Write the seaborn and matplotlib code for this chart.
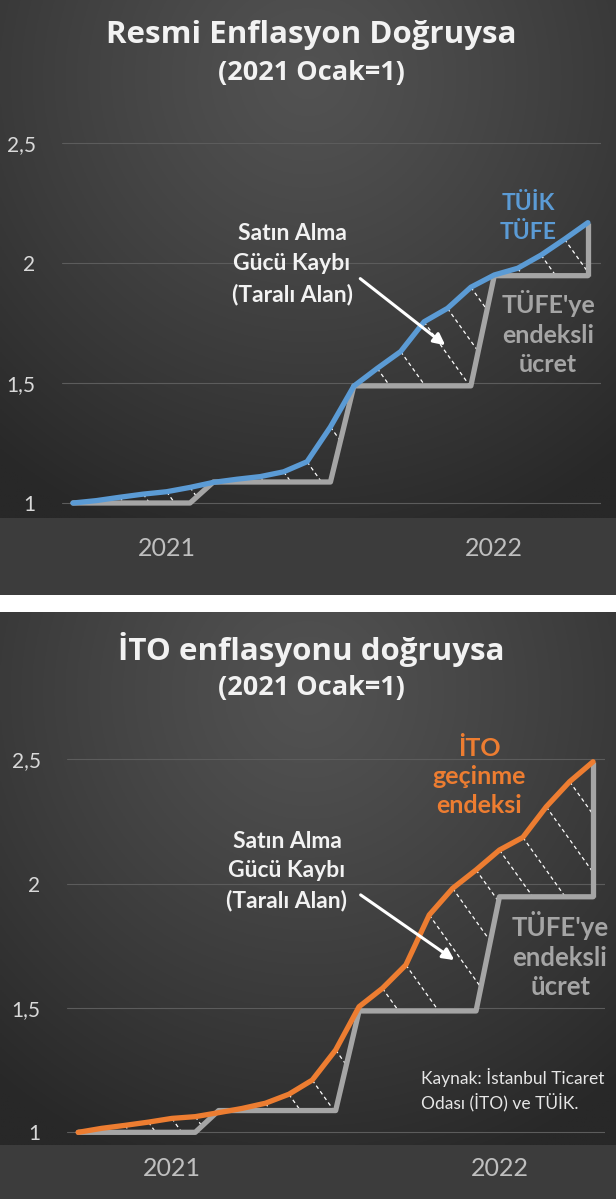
import numpy as np
import pandas as pd
import matplotlib
matplotlib.use("Agg")
import matplotlib.pyplot as plt
import seaborn as sns

sns.set_theme(style="dark")
plt.rcParams['font.family'] = ['Lato', 'DejaVu Sans']

# Ocak 2021 - Kasim 2022, aylik endeksler (2021 Ocak = 1)
aylar = ["2021-01", "2021-02", "2021-03", "2021-04", "2021-05", "2021-06",
         "2021-07", "2021-08", "2021-09", "2021-10", "2021-11", "2021-12",
         "2022-01", "2022-02", "2022-03", "2022-04", "2022-05", "2022-06",
         "2022-07", "2022-08", "2022-09", "2022-10", "2022-11"]
tuik_tufe = [1.000, 1.010, 1.024, 1.037, 1.047, 1.065, 1.086, 1.099, 1.110, 1.130, 1.172, 1.317,
             1.487, 1.561, 1.631, 1.755, 1.811, 1.899, 1.950, 1.978, 2.033, 2.099, 2.168]
ito_endeks = [1.000, 1.016, 1.028, 1.041, 1.056, 1.063, 1.079, 1.096, 1.117, 1.153, 1.210, 1.331,
              1.505, 1.579, 1.673, 1.874, 1.981, 2.055, 2.135, 2.186, 2.309, 2.410, 2.490]
ucret = [1.0, 1.0, 1.0, 1.0, 1.0, 1.0,
         1.0875, 1.0875, 1.0875, 1.0875, 1.0875, 1.0875,
         1.488, 1.488, 1.488, 1.488, 1.488, 1.488,
         1.947, 1.947, 1.947, 1.947, 1.947]
yillar = ["2021", "2022"]
yil_sira = [4, 18]
y_ticks = [1, 1.5, 2, 2.5]
y_etiket = ["1", "1,5", "2", "2,5"]

W, H = 616, 1199
fig = plt.figure(figsize=(W / 100, H / 100), dpi=100, facecolor="white")
BASLIK_FONT = ["Open Sans", "DejaVu Sans"]


def fx(px):
    return px / W


def fy(py):
    return 1 - py / H


def arka_plan(top, bottom, band_bottom):
    # koyu radyal degrade zemin + alt kategori bandi
    ax = fig.add_axes([0, fy(bottom), 1, (bottom - top) / H], zorder=-5)
    yy, xx = np.mgrid[0:1:300j, 0:1:300j]
    r = np.sqrt(((xx - 0.5) / 0.8) ** 2 + ((yy - 0.15) / 0.95) ** 2)
    t = np.clip(r, 0, 1) ** 1.2
    acik = np.array([0x52, 0x52, 0x52]) / 255
    koyu = np.array([0x28, 0x28, 0x28]) / 255
    img = acik * (1 - t)[..., None] + koyu * t[..., None]
    ax.imshow(img, aspect="auto", extent=[0, 1, 1, 0])
    ax.set_xlim(0, 1)
    ax.set_ylim(1, 0)
    ax.axis("off")
    band = fig.add_axes([0, fy(band_bottom), 1, (band_bottom - bottom) / H], zorder=-5)
    band.set_facecolor("#3c3c3c")
    band.set_xticks([])
    band.set_yticks([])
    for s in band.spines.values():
        s.set_visible(False)


def panel(rect, seri, renk, xlim, ylim, egim, xpad):
    ax = fig.add_axes(rect)
    ax.set_facecolor("none")
    df = pd.DataFrame({"ay": aylar, "sira": np.arange(len(aylar)), "endeks": seri, "ucret": ucret})

    sns.lineplot(data=df, x="sira", y="ucret", color="#a5a5a5", lw=3.8, ax=ax)
    ax.vlines(df["sira"].iloc[-1], df["ucret"].iloc[-1], df["endeks"].iloc[-1],
              color="#a5a5a5", lw=3.8)
    sns.lineplot(data=df, x="sira", y="endeks", color=renk, lw=3.8, ax=ax)

    # taralı alan: egri ile ucret arasi, kesikli beyaz capraz cizgiler
    poly = ax.fill_between(df["sira"], df["ucret"], df["endeks"], facecolor="none", edgecolor="none")
    path = poly.get_paths()[0]
    for i, v in zip(df["sira"], df["endeks"]):
        ln, = ax.plot([i, i + 8], [v, v - egim * 8], color="white", lw=0.9,
                      ls=(0, (3, 2.5)), zorder=1.5)
        ln.set_clip_path(path, ax.transData)

    ax.set_xlim(*xlim)
    ax.set_ylim(*ylim)
    ax.set_yticks(y_ticks)
    ax.set_yticklabels(y_etiket)
    ax.set_xticks(yil_sira)
    ax.set_xticklabels(yillar)
    ax.set_xlabel("")
    ax.set_ylabel("")
    ax.grid(axis="y", color="#5c5c5c", lw=0.8)
    ax.grid(axis="x", visible=False)
    for s in ax.spines.values():
        s.set_visible(False)
    ax.tick_params(axis="y", length=0, pad=19, labelsize=15, labelcolor="#d9d9d9")
    ax.tick_params(axis="x", length=0, pad=xpad, labelsize=18, labelcolor="#bfbfbf")
    for lab in ax.get_yticklabels():
        lab.set_horizontalalignment("right")
    return ax


def yazi(px, py, s, **kw):
    fig.text(fx(px), fy(py), s, ha=kw.pop("ha", "center"), va="center", zorder=10, **kw)


# ---------------- Panel 1 : Resmi enflasyon ----------------
arka_plan(0, 518, 595)
ax1 = panel([fx(62), fy(518), fx(601) - fx(62), (518 - 130) / H], tuik_tufe, "#5b9bd5",
            (-0.47, 22.56), (0.9375, 2.554), 0.1365, 14)
ax1.annotate("", xy=(16.0, 1.65), xytext=(12.18, 1.942),
             arrowprops=dict(arrowstyle="-|>", color="white", lw=2.2, mutation_scale=17))

yazi(311, 35, "Resmi Enflasyon Doğruysa", fontsize=22.5, fontweight="bold", color="#f2f2f2",
     family=BASLIK_FONT)
yazi(311, 73, "(2021 Ocak=1)", fontsize=19.5, fontweight="bold", color="#f2f2f2",
     family=BASLIK_FONT)
yazi(292, 264, "Satın Alma\nGücü Kaybı\n(Taralı Alan)", fontsize=16.5, fontweight="bold",
     color="#f2f2f2", linespacing=1.52)
yazi(528, 218, "TÜİK\nTÜFE", fontsize=16.5, fontweight="bold", color="#5b9bd5", linespacing=1.45)
yazi(548, 333, "TÜFE'ye\nendeksli\nücret", fontsize=18, fontweight="bold", color="#a5a5a5",
     linespacing=1.35)

# ---------------- Panel 2 : ITO enflasyonu ----------------
arka_plan(612, 1145, 1199)
ax2 = panel([fx(67), fy(1145), fx(605) - fx(67), (1145 - 740) / H], ito_endeks, "#ed7d31",
            (-0.48, 22.51), (0.949, 2.5774), 0.132, 9)
ax2.annotate("", xy=(16.17, 1.686), xytext=(11.97, 1.961),
             arrowprops=dict(arrowstyle="-|>", color="white", lw=2.2, mutation_scale=17))

yazi(311, 650, "İTO enflasyonu doğruysa", fontsize=22.5, fontweight="bold", color="#f2f2f2",
     family=BASLIK_FONT)
yazi(311, 688, "(2021 Ocak=1)", fontsize=19.5, fontweight="bold", color="#f2f2f2",
     family=BASLIK_FONT)
yazi(287, 871, "Satın Alma\nGücü Kaybı\n(Taralı Alan)", fontsize=16.5, fontweight="bold",
     color="#f2f2f2", linespacing=1.48)
yazi(479, 777, "İTO\ngeçinme\nendeksi", fontsize=18, fontweight="bold", color="#ed7d31",
     linespacing=1.3)
yazi(560, 955, "TÜFE'ye\nendeksli\nücret", fontsize=18.5, fontweight="bold", color="#a5a5a5",
     linespacing=1.28)
yazi(421, 1090, "Kaynak: İstanbul Ticaret\nOdası (İTO) ve TÜİK.", ha="left", fontsize=12.5,
     color="#e6e6e6", linespacing=1.35)

fig.savefig("out.png", dpi=100, facecolor="white")
